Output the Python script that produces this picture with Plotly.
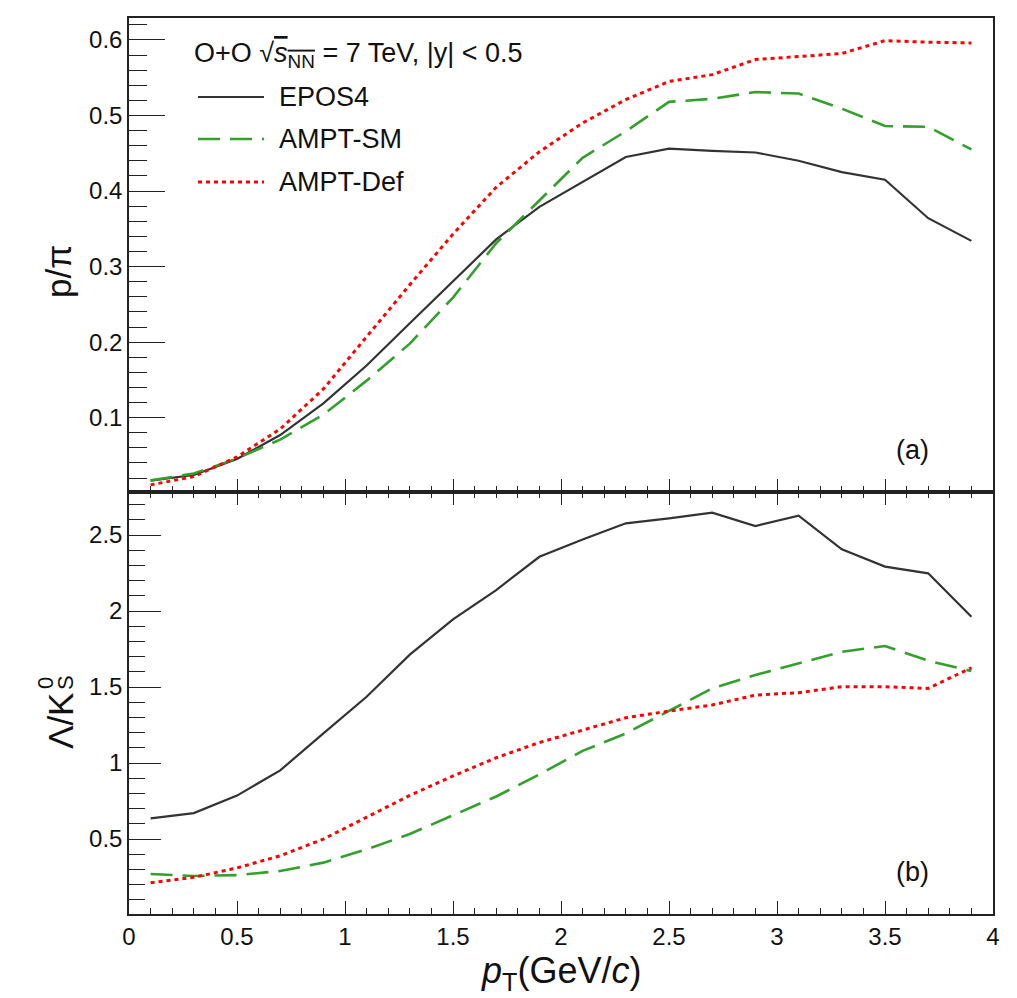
import plotly.graph_objects as go

# ---------------- data ----------------
pt = [0.1, 0.3, 0.5, 0.7, 0.9, 1.1, 1.3, 1.5, 1.7, 1.9,
      2.1, 2.3, 2.5, 2.7, 2.9, 3.1, 3.3, 3.5, 3.7, 3.9]

ppi_epos4 = [0.0166, 0.0241, 0.0453, 0.077, 0.119, 0.169, 0.225, 0.281, 0.336, 0.379,
             0.412, 0.445, 0.456, 0.453, 0.451, 0.440, 0.425, 0.415, 0.364, 0.334]
ppi_ampt_sm = [0.017, 0.026, 0.046, 0.071, 0.104, 0.149, 0.198, 0.259, 0.331, 0.388,
               0.444, 0.479, 0.518, 0.522, 0.531, 0.529, 0.509, 0.486, 0.485, 0.455]
ppi_ampt_def = [0.011, 0.022, 0.048, 0.085, 0.138, 0.207, 0.276, 0.343, 0.405, 0.452,
                0.490, 0.521, 0.545, 0.554, 0.574, 0.578, 0.582, 0.599, 0.597, 0.596]

lk_epos4 = [0.636, 0.671, 0.786, 0.952, 1.195, 1.436, 1.713, 1.945, 2.138, 2.357,
            2.47, 2.577, 2.61, 2.647, 2.559, 2.627, 2.406, 2.292, 2.248, 1.962]
lk_ampt_sm = [0.270, 0.257, 0.263, 0.290, 0.345, 0.432, 0.533, 0.658, 0.78, 0.925,
              1.08, 1.195, 1.344, 1.491, 1.579, 1.656, 1.732, 1.77, 1.673, 1.605]
lk_ampt_def = [0.213, 0.248, 0.31, 0.39, 0.50, 0.645, 0.787, 0.915, 1.035, 1.135,
               1.217, 1.298, 1.342, 1.382, 1.447, 1.463, 1.502, 1.502, 1.491, 1.627]

model_names = ["EPOS4", "AMPT-SM", "AMPT-Def"]

# ---------------- styles ----------------
FONT = "Liberation Sans, Arial, Helvetica, sans-serif"
styles = [
    dict(color="#333333", width=2.2, dash="solid"),
    dict(color="#33a02c", width=2.6, dash="22px,10px"),
    dict(color="#ff0000", width=3.0, dash="4px,4px"),
]

W, H = 1017, 998
L, R, T, B = 129, 24, 18, 84
plot_h = H - T - B
split_px = 492  # boundary between panels (pixels from top)
split = (H - B - split_px) / plot_h

fig = go.Figure()
top_series = [ppi_epos4, ppi_ampt_sm, ppi_ampt_def]
bot_series = [lk_epos4, lk_ampt_sm, lk_ampt_def]
for name, ys, st in zip(model_names, top_series, styles):
    fig.add_trace(go.Scatter(x=pt, y=ys, mode="lines", name=name, line=st,
                             xaxis="x2", yaxis="y2", showlegend=False))
for name, ys, st in zip(model_names, bot_series, styles):
    fig.add_trace(go.Scatter(x=pt, y=ys, mode="lines", name=name, line=st,
                             xaxis="x", yaxis="y", showlegend=False))

axcol = "#222222"
common = dict(showgrid=False, zeroline=False, showline=True, linecolor=axcol,
              linewidth=1.5, ticks="inside", tickcolor=axcol, tickwidth=1.3,
              tickfont=dict(family=FONT, size=24, color="#111"))

fig.update_layout(
    width=W, height=H,
    margin=dict(l=L, r=R, t=T, b=B, pad=0),
    paper_bgcolor="white", plot_bgcolor="white",
    font=dict(family=FONT, color="#111"),
    xaxis=dict(common, domain=[0, 1], anchor="y", range=[0, 4], dtick=0.5, tick0=0,
               ticklen=13, mirror="ticks",
               minor=dict(dtick=0.1, ticklen=6, ticks="inside", tickcolor=axcol, tickwidth=1.3)),
    xaxis2=dict(common, domain=[0, 1], anchor="y2", matches="x", range=[0, 4], dtick=0.5,
                tick0=0, ticklen=13, mirror=True, showticklabels=False,
                minor=dict(dtick=0.1, ticklen=6, ticks="inside", tickcolor=axcol, tickwidth=1.3)),
    yaxis=dict(common, domain=[0, split], anchor="x", range=[0.007, 2.783], dtick=0.5,
               tick0=0, ticklen=32, mirror=True,
               minor=dict(dtick=0.1, ticklen=16, ticks="inside", tickcolor=axcol, tickwidth=1.3)),
    yaxis2=dict(common, domain=[split, 1], anchor="x2", range=[0.0016, 0.629], dtick=0.1,
                tick0=0, ticklen=36, mirror=True,
                minor=dict(dtick=0.02, ticklen=18, ticks="inside", tickcolor=axcol, tickwidth=1.3)),
)

def px_x(p):
    return (p - L) / (W - L - R)

def px_y(p):
    return (H - B - p) / plot_h

def note(xp, yp, text, size, angle=0, xa="center", ya="middle"):
    fig.add_annotation(x=px_x(xp), y=px_y(yp), xref="paper", yref="paper", text=text,
                       showarrow=False, xanchor=xa, yanchor=ya, textangle=angle,
                       font=dict(family=FONT, size=size, color="#111"))

# ---------------- legend (drawn manually) ----------------
header = ("O+O √<span style='text-decoration:overline'><i>s</i><sub>NN</sub></span>"
          " = 7 TeV, |y| &lt; 0.5")
note(192, 55, header, 27, xa="left")
row_y = [97, 139, 182]
for name, st, ry in zip(model_names, styles, row_y):
    fig.add_shape(type="line", xref="paper", yref="paper",
                  x0=px_x(198), x1=px_x(264), y0=px_y(ry), y1=px_y(ry), line=st)
    note(277, ry, name, 27, xa="left")

# panel labels
note(912, 450, "(a)", 27)
note(912, 872, "(b)", 27)

# axis titles
note(561, 948, "<i>p</i><sub>T</sub>(GeV/<i>c</i>)", 36, ya="top")
note(58, 272, "p/π", 35, angle=-90)
note(60, 721, "Λ/K", 35, angle=-90)
note(45, 683, "0", 22, angle=-90)
note(65, 683, "S", 22, angle=-90)

fig.write_html("out.html")
